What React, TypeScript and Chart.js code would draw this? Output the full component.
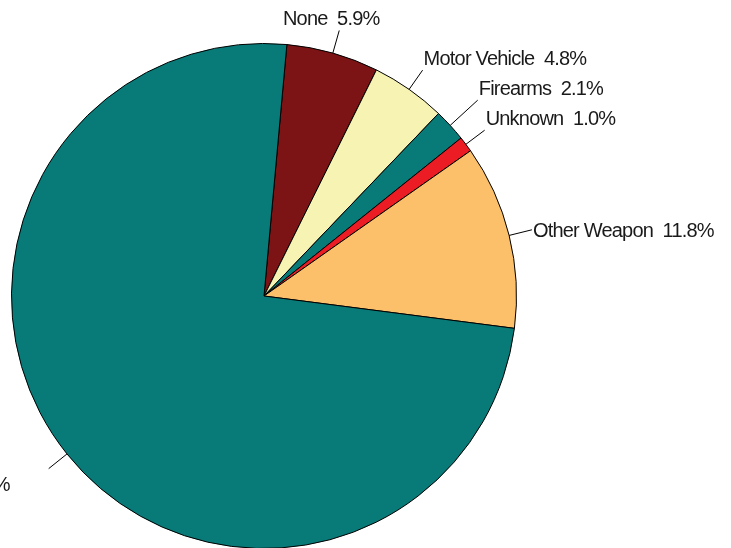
import React, { useEffect, useRef } from "react";
import { Chart, registerables } from "chart.js";

Chart.register(...registerables);

const categories = ["None", "Motor Vehicle", "Firearms", "Unknown", "Other Weapon", "Personal Weapons"];
const percents = [5.9, 4.8, 2.1, 1.0, 11.8, 74.4];
const sliceColors = ["#7C1315", "#F7F3B2", "#087B79", "#EC1C24", "#FCC06B", "#087B79"];
// extra leader length (fraction of radius) to keep crowded labels apart
const leaderExtra = [0, 0, 0.055, 0, 0, 0];

const labelPlugin = {
  id: "outsideLabels",
  afterDatasetsDraw(chart: any) {
    const ctx = chart.ctx;
    const meta = chart.getDatasetMeta(0);
    ctx.save();
    ctx.font = '20px "Liberation Sans", Arial, sans-serif';
    try { (ctx as any).letterSpacing = "-0.8px"; } catch (e) {}
    ctx.fillStyle = "#1a1a1a";
    ctx.strokeStyle = "#000";
    ctx.lineWidth = 1;
    meta.data.forEach((arc: any, i: number) => {
      const { x, y, startAngle, endAngle, outerRadius } = arc.getProps(
        ["x", "y", "startAngle", "endAngle", "outerRadius"], true);
      const mid = (startAngle + endAngle) / 2;
      const c = Math.cos(mid), s = Math.sin(mid);
      const r1 = outerRadius;
      const r2 = outerRadius * (1.093 + leaderExtra[i]);
      const ex = x + r2 * c, ey = y + r2 * s;
      ctx.beginPath();
      ctx.moveTo(x + r1 * c, y + r1 * s);
      ctx.lineTo(ex, ey);
      ctx.stroke();
      const text = categories[i] + "  " + percents[i].toFixed(1) + "%";
      // cosTop: >0 means upper half
      const cosTop = -s;
      let tx = ex, ty: number;
      if (Math.abs(c) < 0.3) {
        ctx.textAlign = "center";
        tx = ex - 8;
      } else if (c > 0) {
        ctx.textAlign = "left";
        tx = ex + 1;
      } else {
        ctx.textAlign = "right";
        tx = ex - 39;
      }
      if (cosTop > 0.5) ty = ey - 5;
      else if (cosTop < -0.5) ty = ey + 22;
      else ty = ey + 7;
      ctx.textBaseline = "alphabetic";
      ctx.fillText(text, tx, ty);
    });
    ctx.restore();
  },
};

export default function App() {
  const ref = useRef<HTMLCanvasElement | null>(null);
  useEffect(() => {
    if (!ref.current) return;
    const chart = new Chart(ref.current, {
      type: "pie",
      data: {
        labels: categories,
        datasets: [
          {
            data: percents,
            backgroundColor: sliceColors,
            borderColor: "#000",
            borderWidth: 1,
          },
        ],
      },
      options: {
        animation: false,
        responsive: false,
        rotation: 5.2,
        layout: { padding: { left: 11, top: 43, right: 214, bottom: 51 } },
        plugins: { legend: { display: false }, tooltip: { enabled: false } },
      },
      plugins: [labelPlugin],
    });
    return () => chart.destroy();
  }, []);
  return (
    <div style={{ position: "fixed", left: 0, top: 0, width: 731, height: 548, overflow: "hidden", background: "#fff" }}>
      <canvas ref={ref} width={731} height={600} style={{ width: 731, height: 600, display: "block" }} />
    </div>
  );
}
